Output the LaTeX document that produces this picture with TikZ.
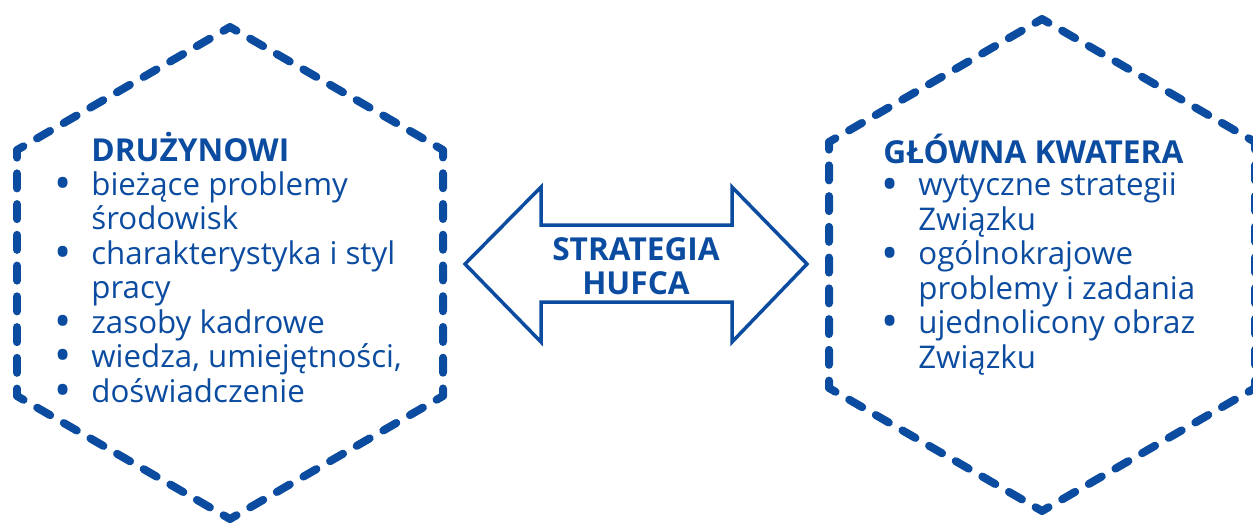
\documentclass[tikz,border=0pt]{standalone}
\usepackage{fontspec}
\setmainfont{Open Sans}
\definecolor{zhpblue}{RGB}{12,76,160}
% bullet hanging left of the line
\newcommand{\bul}{\llap{\smash{\raisebox{-2.5pt}{\fontsize{26}{26}\selectfont\textbullet}}\hspace{0.40cm}}}

\begin{document}
\begin{tikzpicture}[x=0.02cm, y=-0.02cm,
  hexline/.style={zhpblue, line width=0.16cm, line cap=round, line join=round,
    dash pattern=on 0.3cm off 0.315cm, dash phase=0.15cm},
  arrowline/.style={zhpblue, line width=0.07cm, line join=miter},
  headtext/.style={zhpblue, font=\fontsize{18}{19.6}\selectfont\bfseries, inner sep=0pt},
  listtext/.style={zhpblue, font=\fontsize{17.8}{19.6}\selectfont, align=left, inner sep=0pt}]
\useasboundingbox (0,0) rectangle (1253,522);
\clip (0,0) rectangle (1253,522);

% left hexagon -- start at the top corner, 8 dashes a side
\draw[hexline] (230,27) -- (443,150) -- (443,396) -- (230,519) -- (17,396) -- (17,150) -- cycle;
% right hexagon, runs out of the page on the right
\draw[hexline] (1042,19) -- (1255,142) -- (1255,388) -- (1042,511) -- (829,388) -- (829,142) -- cycle;

% double arrow in the middle
\draw[arrowline] (465,264) -- (541,187) -- (541,225) -- (732,225) -- (732,187) -- (807,264)
  -- (732,342) -- (732,302) -- (541,302) -- (541,342) -- cycle;
\node[headtext, align=center] (strat) at (636,266) {STRATEGIA\\HUFCA};

% left texts (base = baseline of the last line)
\node[headtext, anchor=base west] (druz) at (91,161) {DRUŻYNOWI};
\node[listtext, anchor=base west] (druzlist) at (91,402)
  {\bul bieżące problemy\\
   środowisk\\
   \bul charakterystyka i styl\\
   pracy\\
   \bul zasoby kadrowe\\
   \bul wiedza, umiejętności,\\
   \bul doświadczenie};

% right texts
\node[headtext, anchor=base west] (gk) at (883,163) {GŁÓWNA KWATERA};
\node[listtext, anchor=base west] (gklist) at (918,368)
  {\bul wytyczne strategii\\
   Związku\\
   \bul ogólnokrajowe\\
   problemy i zadania\\
   \bul ujednolicony obraz\\
   Związku};

\end{tikzpicture}
\end{document}
